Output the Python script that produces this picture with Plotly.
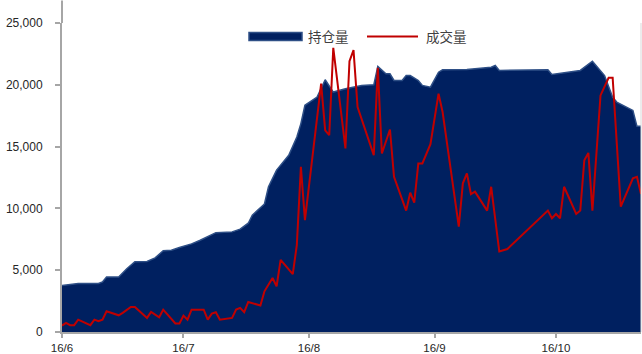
import plotly.graph_objects as go

# 持仓量 (open interest) – area
oi_dates = ["2016-06-01", "2016-06-05", "2016-06-10", "2016-06-11", "2016-06-12", "2016-06-15",
            "2016-06-17", "2016-06-19", "2016-06-22", "2016-06-24", "2016-06-26", "2016-06-28",
            "2016-06-30", "2016-07-03", "2016-07-05", "2016-07-07", "2016-07-09", "2016-07-13",
            "2016-07-15", "2016-07-17", "2016-07-18", "2016-07-21", "2016-07-22", "2016-07-24",
            "2016-07-27", "2016-07-29", "2016-07-30", "2016-07-31", "2016-08-03", "2016-08-05",
            "2016-08-07", "2016-08-10", "2016-08-12", "2016-08-14", "2016-08-17", "2016-08-18",
            "2016-08-20", "2016-08-21", "2016-08-22", "2016-08-24", "2016-08-25", "2016-08-26",
            "2016-08-28", "2016-08-29", "2016-08-31", "2016-09-02", "2016-09-03", "2016-09-09",
            "2016-09-15", "2016-09-16", "2016-09-17", "2016-09-22", "2016-09-29", "2016-09-30",
            "2016-10-02", "2016-10-07", "2016-10-10", "2016-10-13", "2016-10-15", "2016-10-16",
            "2016-10-20", "2016-10-21", "2016-10-22"]
oi_values = [3770, 3930, 3930, 4050, 4450, 4450,
             5120, 5680, 5700, 6000, 6570, 6620,
             6840, 7130, 7400, 7720, 8040, 8100,
             8320, 8800, 9450, 10360, 11750, 13100,
             14300, 15780, 16860, 18340, 19010, 20410,
             19410, 19680, 19810, 19950, 20000, 21480,
             20890, 20890, 20350, 20350, 20750, 20750,
             20350, 19950, 19810, 21020, 21210, 21240,
             21420, 21560, 21160, 21160, 21210, 20830,
             20940, 21160, 21910, 20750, 19000, 18600,
             17930, 16640, 16640]

# 成交量 (volume) – line
vol_dates = ["2016-06-01", "2016-06-02", "2016-06-03", "2016-06-04", "2016-06-05", "2016-06-08",
             "2016-06-09", "2016-06-10", "2016-06-11", "2016-06-12", "2016-06-15", "2016-06-16",
             "2016-06-18", "2016-06-19", "2016-06-22", "2016-06-23", "2016-06-25", "2016-06-26",
             "2016-06-29", "2016-06-30", "2016-07-01", "2016-07-02", "2016-07-03", "2016-07-06",
             "2016-07-07", "2016-07-08", "2016-07-09", "2016-07-10", "2016-07-13", "2016-07-14",
             "2016-07-15", "2016-07-16", "2016-07-17", "2016-07-20", "2016-07-21", "2016-07-23",
             "2016-07-24", "2016-07-25", "2016-07-28", "2016-07-29", "2016-07-30", "2016-07-31",
             "2016-08-04", "2016-08-05", "2016-08-06", "2016-08-07", "2016-08-10", "2016-08-11",
             "2016-08-12", "2016-08-13", "2016-08-17", "2016-08-18", "2016-08-19", "2016-08-21",
             "2016-08-22", "2016-08-25", "2016-08-26", "2016-08-27", "2016-08-28", "2016-08-29",
             "2016-08-31", "2016-09-02", "2016-09-03", "2016-09-07", "2016-09-08", "2016-09-09",
             "2016-09-10", "2016-09-11", "2016-09-14", "2016-09-15", "2016-09-17", "2016-09-19",
             "2016-09-29", "2016-09-30", "2016-10-01", "2016-10-02", "2016-10-03", "2016-10-06",
             "2016-10-07", "2016-10-08", "2016-10-09", "2016-10-10", "2016-10-12", "2016-10-14",
             "2016-10-15", "2016-10-17", "2016-10-20", "2016-10-21", "2016-10-22"]
vol_values = [520, 740, 550, 550, 1000, 550,
              1000, 870, 1000, 1680, 1350, 1550,
              2030, 2030, 1140, 1630, 1190, 1810,
              690, 690, 1330, 1000, 1810, 1810,
              1000, 1490, 1600, 1000, 1140, 1810,
              1950, 1600, 2430, 2140, 3290, 4370,
              3690, 5840, 4690, 7050, 13360, 9050,
              20090, 16320, 15920, 22990, 14850, 21910,
              22810, 18200, 14310, 21370, 14440, 16380,
              12560, 9820, 11270, 10460, 13640, 13640,
              15190, 19280, 17800, 8530, 12030, 12830,
              11160, 11350, 9820, 11750, 6510, 6710,
              9820, 9200, 9550, 9200, 11750, 9550,
              9820, 13900, 14490, 9820, 19140, 20570,
              20570, 10140, 12440, 12560, 11160]

tick_dates = ["2016-06-01", "2016-07-01", "2016-08-01", "2016-09-01", "2016-10-01"]
tick_labels = ["16/6", "16/7", "16/8", "16/9", "16/10"]
y_ticks = [0, 5000, 10000, 15000, 20000, 25000]
y_labels = ["0", "5,000", "10,000", "15,000", "20,000", "25,000"]
series_names = ["持仓量", "成交量"]

NAVY = "#002060"
EDGE = "#2E4F86"
RED = "#C00000"
AXIS = "#A6A6A6"
TXT = "#262626"

W, H = 642, 354
L, R, T, B = 62, 1, 22.5, 21.5
PW, PH = W - L - R, H - T - B


def px(xp):
    return (xp - L) / PW


def py(yp):
    return (H - B - yp) / PH


fig = go.Figure()
fig.add_trace(go.Scatter(x=oi_dates, y=oi_values, name=series_names[0], mode="lines",
                         fill="tozeroy", fillcolor=NAVY,
                         line=dict(color=EDGE, width=1.5), hoverinfo="skip"))
fig.add_trace(go.Scatter(x=vol_dates, y=vol_values, name=series_names[1], mode="lines",
                         line=dict(color=RED, width=2), hoverinfo="skip"))

shapes = [
    # y axis line extension to the top of the frame
    dict(type="line", xref="paper", yref="paper", x0=0, x1=0, y0=1, y1=py(0),
         line=dict(color=AXIS, width=2)),
    # right border
    dict(type="line", xref="paper", yref="paper", x0=px(641), x1=px(641), y0=0, y1=1,
         line=dict(color="#D9D9D9", width=1)),
    # legend keys
    dict(type="rect", xref="paper", yref="paper", x0=px(249), x1=px(302), y0=py(40), y1=py(32),
         fillcolor=NAVY, line=dict(color=EDGE, width=1.5)),
    dict(type="line", xref="paper", yref="paper", x0=px(367), x1=px(418), y0=py(36), y1=py(36),
         line=dict(color=RED, width=2)),
]
annotations = [
    dict(text=series_names[0], xref="paper", yref="paper", x=px(306), y=py(36),
         xanchor="left", yanchor="middle", showarrow=False,
         font=dict(family="Noto Sans CJK SC", size=13.5, color="#404040")),
    dict(text=series_names[1], xref="paper", yref="paper", x=px(424), y=py(36),
         xanchor="left", yanchor="middle", showarrow=False,
         font=dict(family="Noto Sans CJK SC", size=13.5, color="#404040")),
]

fig.update_layout(
    width=W, height=H,
    margin=dict(l=L, r=R, t=T, b=B, pad=0, autoexpand=False),
    paper_bgcolor="white", plot_bgcolor="white",
    showlegend=False,
    shapes=shapes, annotations=annotations,
    font=dict(family="Liberation Sans, Arial", size=12, color=TXT),
    xaxis=dict(type="date", range=["2016-06-01", "2016-10-22"],
               tickvals=tick_dates, ticktext=tick_labels,
               showgrid=False, zeroline=False, automargin=False,
               showline=True, linecolor=AXIS, linewidth=2,
               ticks="outside", ticklen=4, tickcolor=AXIS, tickwidth=1.5,
               ticklabelstandoff=0,
               tickfont=dict(size=11.5, color=TXT)),
    yaxis=dict(range=[0, 25000], tickvals=y_ticks, ticktext=y_labels,
               showgrid=False, zeroline=False, automargin=False,
               showline=True, linecolor=AXIS, linewidth=2,
               ticks="outside", ticklen=5, tickcolor=AXIS, tickwidth=1.5,
               ticklabelstandoff=10,
               tickfont=dict(size=12, color=TXT)),
)

fig.write_html("out.html")
